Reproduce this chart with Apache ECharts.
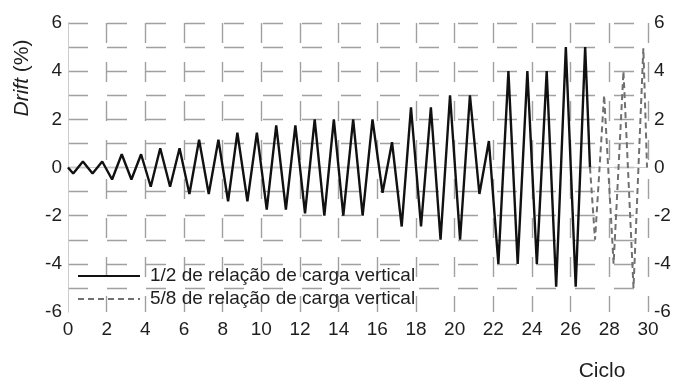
<!DOCTYPE html>
<html>
<head>
<meta charset="utf-8">
<script src="https://cdn.jsdelivr.net/npm/echarts@6/dist/echarts.min.js"></script>
<style>
html, body { margin: 0; padding: 0; background: #fff; }
#chart { width: 675px; height: 381px; }
</style>
</head>
<body>
<div id="chart"></div>
<script>
// ciclos de drift
var solidX = [0, 0.27, 0.77, 1.27, 1.77, 2.28, 2.78, 3.28, 3.78, 4.28, 4.77, 5.28, 5.77,
  6.28, 6.78, 7.28, 7.78, 8.28, 8.76, 9.28, 9.77, 10.28, 10.77, 11.27, 11.76,
  12.26, 12.76, 13.26, 13.75, 14.24, 14.75, 15.24, 15.75, 16.27, 16.76,
  17.26, 17.74, 18.26, 18.77, 19.27, 19.76, 20.28, 20.79, 21.28, 21.77,
  22.26, 22.78, 23.26, 23.76, 24.25, 24.76, 25.25, 25.75, 26.26, 26.75, 27.0];
var solidY = [0, -0.25, 0.25, -0.25, 0.25, -0.5, 0.55, -0.5, 0.55, -0.8, 0.8, -0.8, 0.8,
  -1.1, 1.15, -1.1, 1.15, -1.4, 1.45, -1.4, 1.45, -1.75, 1.75, -1.75, 1.75,
  -1.9, 2.0, -2.0, 2.0, -2.0, 2.0, -2.0, 2.0, -1.05, 1.05,
  -2.45, 2.5, -2.45, 2.5, -3.0, 3.0, -3.0, 3.0, -1.1, 1.1,
  -4.0, 4.0, -4.0, 4.0, -4.0, 4.0, -4.95, 5.0, -4.95, 5.0, 0];
var dashedX = [27.0, 27.26, 27.73, 28.22, 28.73, 29.25, 29.76, 29.95];
var dashedY = [0, -3.0, 3.0, -4.0, 4.0, -5.0, 4.95, 0];

var seriesNames = ['1/2 de relação de carga vertical', '5/8 de relação de carga vertical'];
var xMin = 0, xMax = 30, xStep = 2;
var yMin = -6, yMax = 6, yStep = 2;

function pairs(xs, ys) {
  var out = [];
  for (var i = 0; i < xs.length; i++) out.push([xs[i], ys[i]]);
  return out;
}

var font = 'Liberation Sans, Arial, sans-serif';
var gridLine = { color: '#a0a0a0', width: 1.4, type: [20, 19] };
var frameLine = { color: '#c8c8c8', width: 1, type: 'dotted' };

var chart = echarts.init(document.getElementById('chart'));
chart.setOption({
  animation: false,
  backgroundColor: '#fff',
  grid: { left: 68, right: 27, top: 23, bottom: 69 },
  legend: {
    orient: 'vertical',
    left: 72,
    top: 261,
    itemWidth: 62,
    itemHeight: 14,
    itemGap: 3,
    data: seriesNames,
    itemStyle: { opacity: 0 },
    textStyle: { fontFamily: font, fontSize: 19, color: '#1e1e1e', lineHeight: 20, padding: [0, 0, 0, 5] }
  },
  xAxis: [
    {
      type: 'value', min: xMin, max: xMax, interval: xStep,
      axisLine: { show: true, lineStyle: frameLine },
      axisTick: { show: false },
      axisLabel: { fontFamily: font, fontSize: 19, color: '#1e1e1e', margin: 8 },
      splitLine: { show: true, showMinLine: false, lineStyle: gridLine }
    },
    {
      type: 'value', position: 'top', min: xMin, max: xMax, interval: xStep,
      axisLine: { show: true, lineStyle: frameLine },
      axisTick: { show: false }, axisLabel: { show: false }, splitLine: { show: false }
    }
  ],
  yAxis: [
    {
      type: 'value', min: yMin, max: yMax, interval: yStep,
      axisLine: { show: true, lineStyle: frameLine },
      axisTick: { show: false },
      axisLabel: { fontFamily: font, fontSize: 19, color: '#1e1e1e', margin: 6 },
      splitLine: { show: true, showMinLine: false, lineStyle: gridLine },
      minorTick: { show: false, splitNumber: 2 },
      minorSplitLine: { show: true, lineStyle: gridLine }
    },
    {
      type: 'value', position: 'right', min: yMin, max: yMax, interval: yStep,
      axisLine: { show: true, lineStyle: frameLine },
      axisTick: { show: false },
      axisLabel: { fontFamily: font, fontSize: 19, color: '#1e1e1e', margin: 6 },
      splitLine: { show: false }
    }
  ],
  graphic: [
    {
      type: 'text', x: 22, y: 78, rotation: Math.PI / 2,
      style: {
        text: '{i|Drift} (%)',
        rich: { i: { fontStyle: 'italic', fontFamily: font, fontSize: 21, fill: '#1e1e1e' } },
        fontFamily: font, fontSize: 21, fill: '#1e1e1e',
        align: 'center', verticalAlign: 'middle'
      }
    },
    {
      type: 'text', x: 602, y: 371,
      style: {
        text: 'Ciclo', fontFamily: font, fontSize: 21, fill: '#1e1e1e',
        align: 'center', verticalAlign: 'middle'
      }
    }
  ],
  series: [
    {
      name: seriesNames[0], type: 'line', symbol: 'none',
      data: pairs(solidX, solidY),
      lineStyle: { color: '#111', width: 2.4 },
      itemStyle: { color: '#111' }
    },
    {
      name: seriesNames[1], type: 'line', symbol: 'none',
      data: pairs(dashedX, dashedY),
      lineStyle: { color: '#707070', width: 2, type: [6, 4] },
      itemStyle: { color: '#707070' }
    }
  ]
});
</script>
</body>
</html>
